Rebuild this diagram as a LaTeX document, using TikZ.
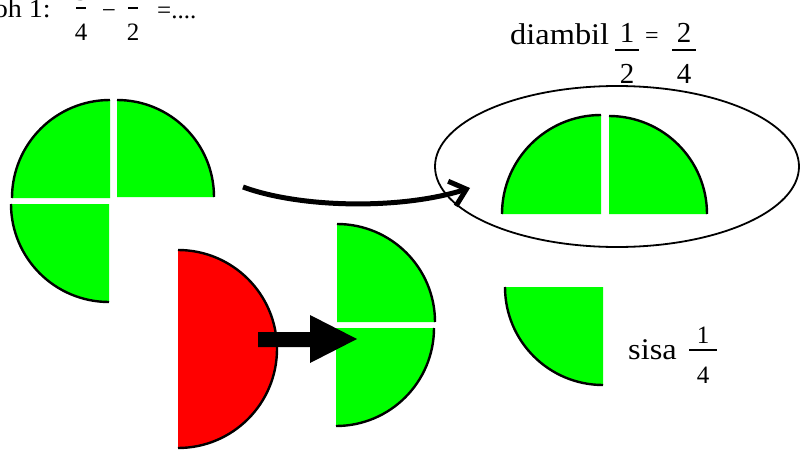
\documentclass[tikz,border=0pt]{standalone}
\usepackage{fontspec}
\setmainfont{Liberation Serif}
\newfontfamily\katafont[FakeStretch=1.08]{Liberation Serif}
\usetikzlibrary{arrows.meta,shapes.geometric}
\definecolor{hijau}{RGB}{0,255,0}
\definecolor{merah}{RGB}{255,0,0}
% juring: colour, centre, start angle, end angle, radius
\newcommand{\juring}[5]{%
  \fill[#1] #2 -- ++(#3:#5) arc[start angle=#3,end angle=#4,radius=#5] -- cycle;
  \draw[busur] #2 ++(#3:#5) arc[start angle=#3,end angle=#4,radius=#5];}
% pecahan: [style], name, centre of the bar, half width, numerator, denominator
\newcommand{\pecahan}[6][angka]{%
  \begin{scope}[shift={#3}]
    \node[#1,anchor=base] (#2-atas) at (0,-7) {#5};
    \draw[garis] (-#4,0) -- (#4,0);
    \node[#1,anchor=base] (#2-bawah) at (0,33) {#6};
  \end{scope}}
\begin{document}
\begin{tikzpicture}[x=1pt,y=-1pt,
  busur/.style={line width=2.4pt},
  garis/.style={line width=1.1pt},
  teks/.style={inner sep=0pt,font=\katafont\fontsize{30}{36}\selectfont},
  kecil/.style={inner sep=0pt,font=\katafont\fontsize{26}{31}\selectfont},
  angka/.style={inner sep=0pt,font=\fontsize{29}{35}\selectfont},
  angka kecil/.style={inner sep=0pt,font=\fontsize{25}{30}\selectfont}]
\useasboundingbox (0,0) rectangle (800,452);
\clip (0,0) rectangle (800,452);

\node[kecil,anchor=base east] (judul) at (51,18) {Contoh 1:};
\pecahan[angka kecil]{soalA}{(81,8)}{5}{3}{4}
\node[angka kecil,anchor=base] (kurang) at (109,19) {−};
\pecahan[angka kecil]{soalB}{(133,8)}{5}{1}{2}
\node[angka kecil,anchor=base west] (hasil) at (157,19) {=....};

\juring{hijau}{(110,198)}{180}{270}{98}
\juring{hijau}{(117,197)}{270}{360}{97}
\juring{hijau}{(109,204)}{90}{180}{98}

\juring{merah}{(178,349)}{270}{450}{99}
\juring{hijau}{(337,322)}{270}{360}{98}
\juring{hijau}{(336,328)}{0}{90}{98}
\fill (258,332) -- (310,332) -- (310,315) -- (357,339) -- (310,363)
  -- (310,347) -- (258,347) -- cycle;

\node[draw,ellipse,line width=1.8pt,minimum width=364pt,minimum height=161pt,
  inner sep=0pt] (wadah) at (617,166.5) {};
\juring{hijau}{(601,214)}{180}{270}{99}
\juring{hijau}{(609,214)}{270}{360}{98}

\coordinate (lengkungAwal) at (243,187);
\coordinate (lengkungAkhir) at (470,188);
\draw[line width=5pt,-{Straight Barb[length=15pt,width=26pt]}]
  (lengkungAwal) .. controls (300,208) and (400,210) .. (lengkungAkhir);

\node[teks,anchor=base west] (diambil) at (510,45) {diambil};
\pecahan{ambil}{(627,50)}{12}{1}{2}
\node[inner sep=0pt,font=\fontsize{24}{28}\selectfont] (sama) at (652,38) {=};
\pecahan{setara}{(684,50)}{12}{2}{4}

\juring{hijau}{(603,287)}{90}{180}{98}
\node[teks,anchor=base west] (sisa) at (628,359) {sisa};
\pecahan[angka kecil]{sisaPecahan}{(703,350)}{14}{1}{4}
\end{tikzpicture}
\end{document}
